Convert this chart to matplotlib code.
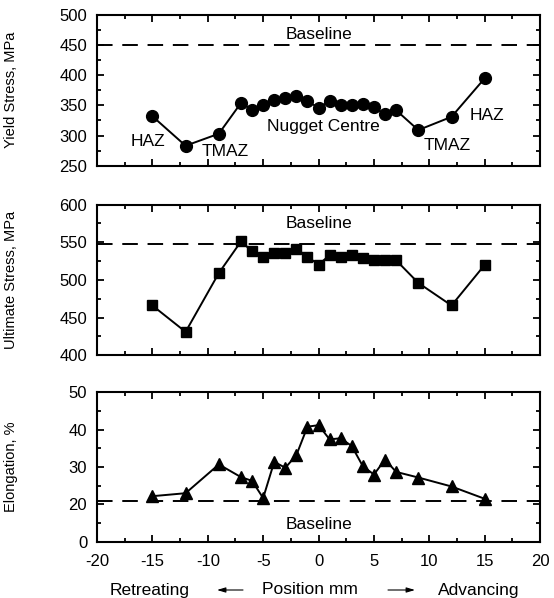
import matplotlib
matplotlib.use("Agg")
import matplotlib.pyplot as plt
from matplotlib.ticker import MultipleLocator

plt.rcParams['font.family'] = ['Liberation Sans', 'DejaVu Sans']
plt.rcParams['font.size'] = 12
plt.rcParams['axes.unicode_minus'] = False

# positions, mm
pos_ys = [-15, -12, -9, -7, -6, -5, -4, -3, -2, -1, 0, 1, 2, 3, 4, 5, 6, 7, 9, 12, 15]
yield_stress = [332, 283, 303, 354, 343, 350, 359, 363, 366, 357, 346, 357, 350, 350, 352, 347, 335, 342, 309, 331, 395]

pos_uts = [-15, -12, -9, -7, -6, -5, -4, -3, -2, -1, 0, 1, 2, 3, 4, 5, 6, 7, 9, 12, 15]
uts = [466, 431, 509, 551, 538, 531, 536, 535, 541, 531, 520, 533, 531, 533, 529, 527, 527, 526, 496, 466, 520]

pos_el = [-15, -12, -9, -7, -6, -5, -4, -3, -2, -1, 0, 1, 2, 3, 4, 5, 6, 7, 9, 12, 15]
elong = [22.2, 23.0, 30.7, 27.3, 26.3, 21.7, 31.4, 29.8, 33.2, 40.8, 41.2, 37.4, 37.7, 35.6, 30.2, 28.0, 32.0, 28.7, 27.2, 24.8, 21.5]

base_ys = 450
base_uts = 547
base_el = 21

fig = plt.figure(figsize=(5.54, 5.98), dpi=100)
left, width = 0.175, 0.80
ax1 = fig.add_axes([left, 0.723, width, 0.252])
ax2 = fig.add_axes([left, 0.406, width, 0.252])
ax3 = fig.add_axes([left, 0.094, width, 0.250])

TXT = 12.5


def style(ax, ymaj, ymin):
    ax.set_xlim(-20, 20)
    ax.xaxis.set_major_locator(MultipleLocator(5))
    ax.xaxis.set_minor_locator(MultipleLocator(2.5))
    ax.yaxis.set_major_locator(MultipleLocator(ymaj))
    ax.yaxis.set_minor_locator(MultipleLocator(ymin))
    ax.tick_params(which='both', direction='in', top=True, right=True, width=1.3)
    ax.tick_params(which='major', length=5, labelsize=12)
    ax.tick_params(axis='y', which='major', pad=7)
    ax.tick_params(axis='x', which='major', pad=9)
    ax.tick_params(which='minor', length=3)
    for s in ax.spines.values():
        s.set_linewidth(1.5)
    ax.yaxis.set_label_coords(-0.178, 0.5)


# yield stress
ax1.plot(pos_ys, yield_stress, '-o', color='black', lw=1.4, ms=8.5)
ax1.axhline(base_ys, color='black', lw=1.4, dashes=(8, 5))
ax1.set_ylim(250, 500)
style(ax1, 50, 25)
ax1.tick_params(axis='x', labelbottom=False)
ax1.set_ylabel("Yield Stress, MPa", fontsize=10.5)
ax1.text(0, 468, "Baseline", ha='center', va='center', fontsize=TXT)
ax1.text(-15.4, 290, "HAZ", ha='center', va='center', fontsize=TXT)
ax1.text(-8.4, 273, "TMAZ", ha='center', va='center', fontsize=TXT)
ax1.text(0.4, 315, "Nugget Centre", ha='center', va='center', fontsize=TXT)
ax1.text(11.6, 284, "TMAZ", ha='center', va='center', fontsize=TXT)
ax1.text(15.2, 333, "HAZ", ha='center', va='center', fontsize=TXT)

# ultimate stress
ax2.plot(pos_uts, uts, '-s', color='black', lw=1.4, ms=7.2)
ax2.axhline(base_uts, color='black', lw=1.4, dashes=(8, 5))
ax2.set_ylim(400, 600)
style(ax2, 50, 25)
ax2.tick_params(axis='x', labelbottom=False)
ax2.set_ylabel("Ultimate Stress, MPa", fontsize=10.5)
ax2.text(0, 575, "Baseline", ha='center', va='center', fontsize=TXT)

# elongation
ax3.plot(pos_el, elong, '-^', color='black', lw=1.4, ms=9)
ax3.axhline(base_el, color='black', lw=1.4, dashes=(8, 5))
ax3.set_ylim(10, 50)
style(ax3, 10, 5)
ax3.set_yticks([10, 20, 30, 40, 50])
ax3.set_yticklabels(["0", "20", "30", "40", "50"])
ax3.set_ylabel("Elongation, %", fontsize=10.5)
ax3.text(0, 14.7, "Baseline", ha='center', va='center', fontsize=TXT)

yl = 1 - 590 / 598
fig.text(150 / 554, yl, "Retreating", ha='center', va='center', fontsize=TXT)
fig.text(310 / 554, yl, "Position mm", ha='center', va='center', fontsize=TXT)
fig.text(479 / 554, yl, "Advancing", ha='center', va='center', fontsize=TXT)
arrow = dict(arrowstyle='-|>,head_length=0.5,head_width=0.15', color='black', lw=0.8,
             shrinkA=0, shrinkB=0)
fig.add_artist(matplotlib.patches.FancyArrowPatch((243 / 554, yl), (217 / 554, yl),
                                                  transform=fig.transFigure, mutation_scale=10,
                                                  **arrow))
fig.add_artist(matplotlib.patches.FancyArrowPatch((388 / 554, yl), (415 / 554, yl),
                                                  transform=fig.transFigure, mutation_scale=10,
                                                  **arrow))

fig.savefig("out.png", dpi=100)
